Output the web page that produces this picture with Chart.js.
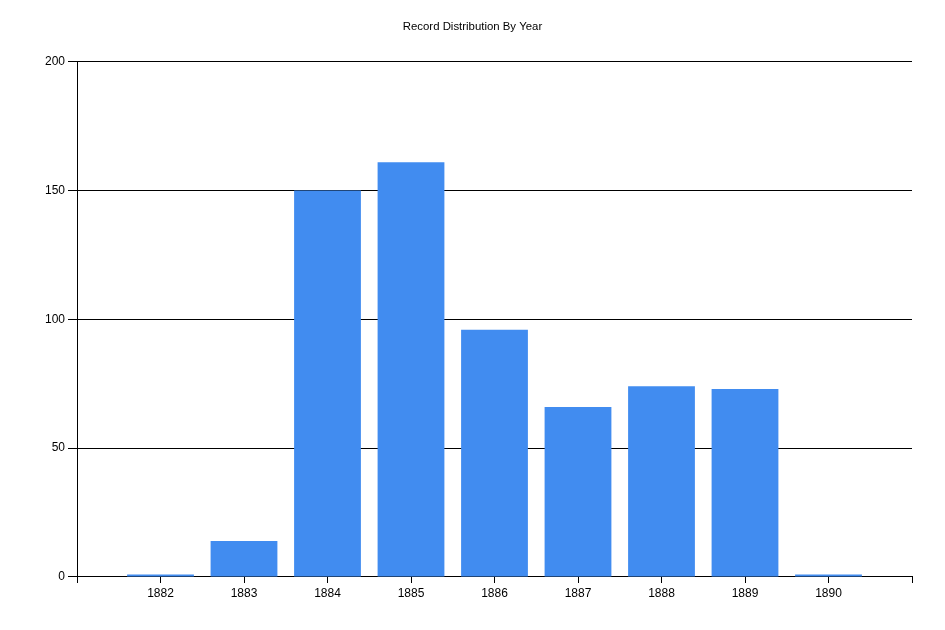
<!DOCTYPE html>
<html>
<head>
<meta charset="utf-8">
<script src="https://cdn.jsdelivr.net/npm/chart.js@4.4.1/dist/chart.umd.min.js"></script>
<style>
html,body{margin:0;padding:0;background:#fff;}
#wrap{width:945px;height:630px;}
</style>
</head>
<body>
<div id="wrap"><canvas id="c" width="945" height="630"></canvas></div>
<script>
const years = [1882, 1883, 1884, 1885, 1886, 1887, 1888, 1889, 1890];
const counts = [1, 14, 150, 161, 96, 66, 74, 73, 1];
const yTicks = [0, 50, 100, 150, 200];
const chartTitle = 'Record Distribution By Year';

const FONT = "'Liberation Sans', Arial, sans-serif";

new Chart(document.getElementById('c'), {
  type: 'bar',
  data: {
    datasets: [{
      data: years.map((y, i) => ({x: y, y: counts[i]})),
      backgroundColor: 'rgb(65,140,240)',
      borderWidth: 0,
      categoryPercentage: 0.8,
      barPercentage: 1.0
    }]
  },
  options: {
    responsive: false,
    animation: false,
    devicePixelRatio: 1,
    layout: {padding: {left: 0, right: 0, top: 0, bottom: 0}},
    plugins: {
      legend: {display: false},
      tooltip: {enabled: false},
      title: {
        display: true,
        text: chartTitle,
        color: '#000',
        font: {family: FONT, size: 11.4, weight: 'normal', lineHeight: 1.2},
        padding: {top: 20, bottom: 28}
      }
    },
    scales: {
      x: {
        type: 'linear',
        min: years[0] - 1,
        max: years[years.length - 1] + 1,
        offset: false,
        afterFit: s => { s.height = 53; },
        grid: {display: true, drawOnChartArea: false, drawTicks: true, tickLength: 6, color: '#000', offset: false},
        border: {display: true, color: '#000', width: 1},
        ticks: {
          stepSize: 1,
          autoSkip: false,
          maxRotation: 0,
          padding: 3,
          color: '#000',
          font: {family: FONT, size: 12},
          callback: v => (years.includes(v) ? String(v) : '')
        }
      },
      y: {
        min: yTicks[0],
        max: yTicks[yTicks.length - 1],
        afterFit: s => { s.width = 77; },
        afterBuildTicks: s => { s.ticks = yTicks.map(v => ({value: v})); },
        grid: {display: true, drawTicks: true, tickLength: 9, color: '#000', lineWidth: 1},
        border: {display: true, color: '#000', width: 1},
        ticks: {
          padding: 3,
          color: '#000',
          font: {family: FONT, size: 12}
        }
      },
      yRight: {
        position: 'right',
        display: true,
        min: 0,
        max: 200,
        afterFit: s => { s.width = 33; },
        grid: {display: false, drawOnChartArea: false},
        border: {display: false},
        ticks: {display: false}
      }
    }
  }
});
</script>
</body>
</html>
